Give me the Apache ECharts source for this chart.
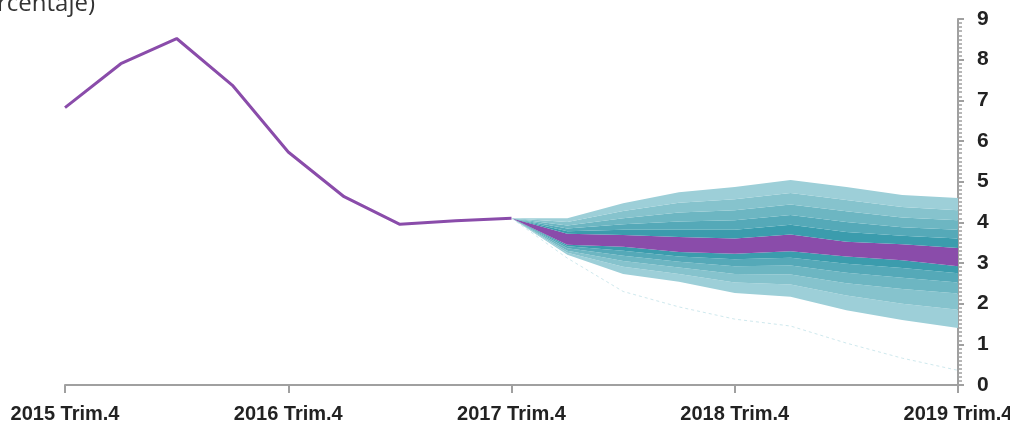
<!DOCTYPE html>
<html>
<head>
<meta charset="utf-8">
<script src="https://cdn.jsdelivr.net/npm/echarts@6/dist/echarts.min.js"></script>
<style>
html,body{margin:0;padding:0;background:#fff;}
#chart{width:1010px;height:435px;}
</style>
</head>
<body>
<div id="chart"></div>
<script>
// Quarters 2015 Trim.4 .. 2019 Trim.4
var categories = [
  "2015 Trim.4","2016 Trim.1","2016 Trim.2","2016 Trim.3","2016 Trim.4",
  "2017 Trim.1","2017 Trim.2","2017 Trim.3","2017 Trim.4",
  "2018 Trim.1","2018 Trim.2","2018 Trim.3","2018 Trim.4",
  "2019 Trim.1","2019 Trim.2","2019 Trim.3","2019 Trim.4"
];
var yTicks = [0,1,2,3,4,5,6,7,8,9];

// Observed inflation (history)
var observed = [6.82, 7.90, 8.52, 7.37, 5.73, 4.63, 3.95, 4.04, 4.10];

// Fan chart boundaries, 2017 Trim.4 .. 2019 Trim.4 (low -> high)
var lower5  = [4.10, 3.20, 2.73, 2.54, 2.26, 2.17, 1.84, 1.60, 1.40];
var lower4  = [4.10, 3.25, 2.91, 2.73, 2.52, 2.47, 2.20, 2.00, 1.85];
var lower3  = [4.10, 3.30, 3.05, 2.89, 2.73, 2.72, 2.50, 2.36, 2.25];
var lower2  = [4.10, 3.36, 3.18, 3.03, 2.92, 2.94, 2.76, 2.64, 2.52];
var lower1  = [4.10, 3.41, 3.30, 3.16, 3.09, 3.13, 2.98, 2.88, 2.75];
var centLo  = [4.10, 3.45, 3.40, 3.27, 3.23, 3.29, 3.16, 3.07, 2.92];
var centHi  = [4.10, 3.72, 3.69, 3.64, 3.60, 3.70, 3.52, 3.46, 3.37];
var upper1  = [4.10, 3.78, 3.82, 3.82, 3.82, 3.94, 3.76, 3.67, 3.60];
var upper2  = [4.10, 3.85, 3.95, 4.02, 4.05, 4.18, 4.01, 3.88, 3.82];
var upper3  = [4.10, 3.92, 4.10, 4.24, 4.30, 4.44, 4.27, 4.12, 4.05];
var upper4  = [4.10, 4.01, 4.28, 4.48, 4.57, 4.72, 4.55, 4.38, 4.30];
var upper5  = [4.10, 4.10, 4.47, 4.74, 4.87, 5.04, 4.87, 4.67, 4.60];
// faint dotted lower tail line
var tailLine = [4.10, 3.12, 2.30, 1.92, 1.62, 1.45, 1.03, 0.66, 0.36];

var fanStart = 8;
var bandColors = ["#9dcfd8", "#86c3cd", "#6db6c2", "#55a9b8", "#3b9cad"];
var purple = "#8a4caa";

function pad(arr){
  var out = [];
  for (var i = 0; i < categories.length; i++) {
    out.push(i < fanStart ? '-' : arr[i - fanStart]);
  }
  return out;
}
function diff(a, b){
  return a.map(function(v, i){ return +(v - b[i]).toFixed(3); });
}
function obsData(){
  var out = [];
  for (var i = 0; i < categories.length; i++) out.push(i < observed.length ? observed[i] : '-');
  return out;
}

var layers = [
  {d: lower5, c: null},
  {d: diff(lower4, lower5), c: bandColors[0]},
  {d: diff(lower3, lower4), c: bandColors[1]},
  {d: diff(lower2, lower3), c: bandColors[2]},
  {d: diff(lower1, lower2), c: bandColors[3]},
  {d: diff(centLo, lower1), c: bandColors[4]},
  {d: diff(centHi, centLo), c: purple},
  {d: diff(upper1, centHi), c: bandColors[4]},
  {d: diff(upper2, upper1), c: bandColors[3]},
  {d: diff(upper3, upper2), c: bandColors[2]},
  {d: diff(upper4, upper3), c: bandColors[1]},
  {d: diff(upper5, upper4), c: bandColors[0]}
];

var series = layers.map(function(l, i){
  return {
    type: 'line',
    stack: 'fan',
    data: pad(l.d),
    symbol: 'none',
    silent: true,
    z: 2,
    lineStyle: {width: 0, opacity: 0},
    areaStyle: l.c ? {color: l.c, opacity: 1} : {opacity: 0}
  };
});

series.push({
  type: 'line',
  data: pad(tailLine),
  symbol: 'none',
  z: 3,
  lineStyle: {color: '#cfe9ee', width: 1, type: [3, 3]}
});
series.push({
  type: 'line',
  data: obsData(),
  symbol: 'none',
  z: 4,
  lineStyle: {color: purple, width: 3}
});

var axisFont = "'Liberation Sans', Arial, sans-serif";

var chart = echarts.init(document.getElementById('chart'), null, {renderer: 'canvas'});
chart.setOption({
  animation: false,
  backgroundColor: '#ffffff',
  grid: {left: 65, right: 52, top: 19, bottom: 50, containLabel: false, outerBoundsMode: 'none'},
  graphic: [{
    type: 'text',
    x: 95, y: 4,
    style: {
      text: '(porcentaje)',
      textAlign: 'right',
      textVerticalAlign: 'middle',
      font: "24px 'Open Sans', sans-serif",
      fill: '#333333'
    }
  }],
  xAxis: {
    type: 'category',
    data: categories,
    boundaryGap: false,
    axisLine: {lineStyle: {color: '#a0a0a0', width: 2}},
    axisTick: {interval: 3, length: 8, lineStyle: {color: '#a0a0a0', width: 2}},
    axisLabel: {
      interval: 3, margin: 19,
      color: '#222222', fontSize: 20, fontWeight: 'bold', fontFamily: axisFont
    },
    splitLine: {show: false}
  },
  yAxis: {
    type: 'value',
    position: 'right',
    min: yTicks[0], max: yTicks[yTicks.length - 1], interval: 1,
    axisLine: {show: true, lineStyle: {color: '#a0a0a0', width: 2}},
    axisTick: {show: true, length: 6, lineStyle: {color: '#a0a0a0', width: 2}},
    minorTick: {show: true, splitNumber: 10, length: 4, lineStyle: {color: '#a0a0a0', width: 1.5}},
    axisLabel: {
      margin: 19, color: '#222222', fontSize: 21, fontWeight: 'bold', fontFamily: axisFont,
      formatter: function(v){ return yTicks.indexOf(v) >= 0 ? String(v) : ''; }
    },
    splitLine: {show: false}
  },
  series: series
});
</script>
</body>
</html>
